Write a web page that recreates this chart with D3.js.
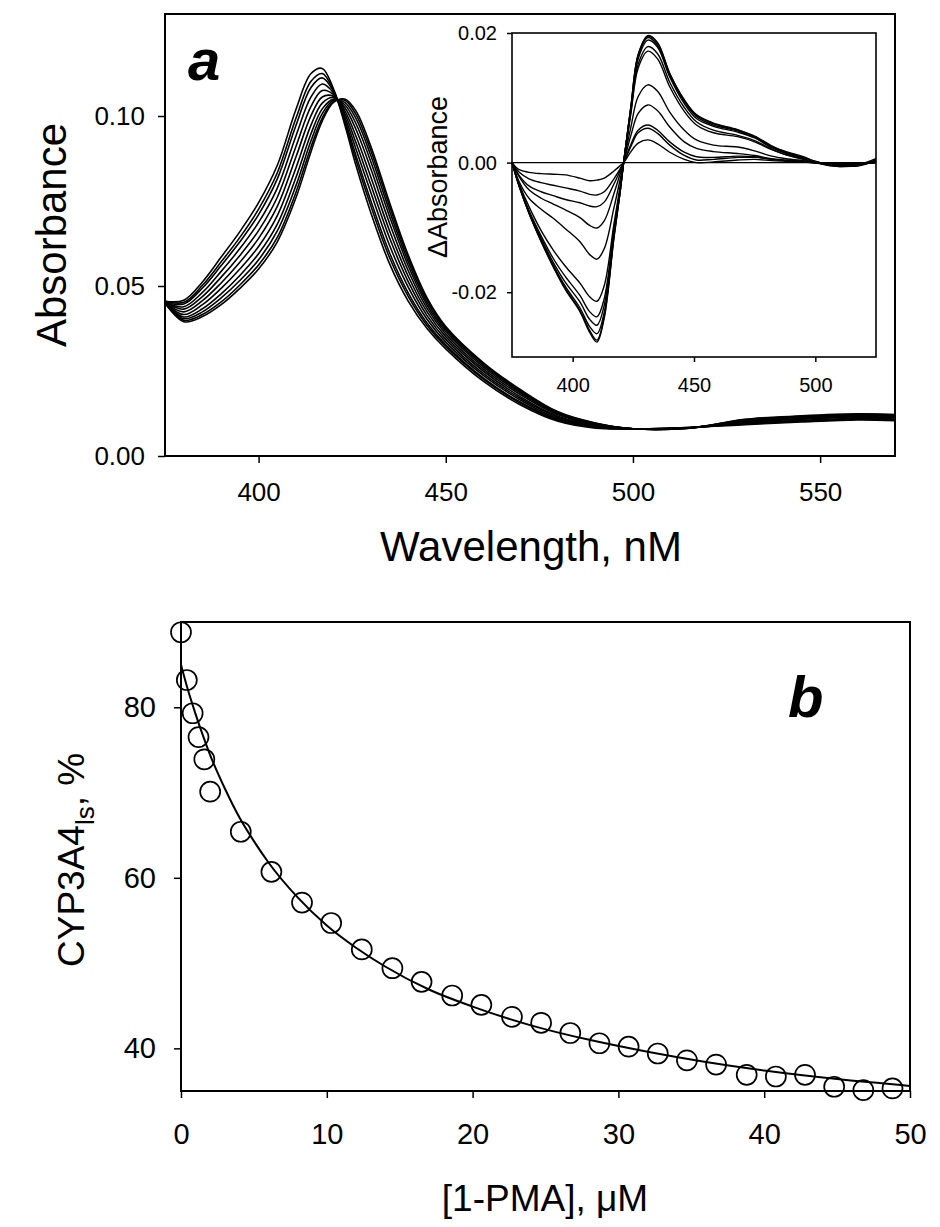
<!DOCTYPE html>
<html>
<head>
<meta charset="utf-8">
<script src="https://cdn.jsdelivr.net/npm/d3@7"></script>
<style>
body { margin: 0; background: #fff; }
svg text { font-family: "Liberation Sans", Arial, sans-serif; fill: #000; }
</style>
</head>
<body>
<div id="container"></div>
<script>
var WIDTH = 940,
	HEIGHT = 1227;

// panel a: absorbance spectra, one shared wavelength grid
var wavelengths = [375, 380, 385, 390, 395, 400, 405, 410, 414, 417, 420, 423, 426, 430, 435, 440, 445, 450, 460, 470, 480, 490, 500, 515, 530, 545, 560, 570];
var spec01 = [0.0455, 0.0458, 0.0512, 0.0585, 0.0660, 0.0745, 0.0855, 0.1020, 0.1125, 0.1140, 0.1080, 0.0975, 0.0855, 0.0715, 0.0565, 0.0455, 0.0375, 0.0315, 0.0220, 0.0150, 0.0102, 0.0082, 0.0080, 0.0084, 0.0092, 0.0100, 0.0106, 0.0104];
var spec02 = [0.0455, 0.0452, 0.0502, 0.0571, 0.0643, 0.0726, 0.0833, 0.0994, 0.1102, 0.1125, 0.1076, 0.0983, 0.0871, 0.0735, 0.0583, 0.0469, 0.0384, 0.0322, 0.0226, 0.0155, 0.0105, 0.0084, 0.0080, 0.0084, 0.0094, 0.0102, 0.0108, 0.0106];
var spec03 = [0.0454, 0.0447, 0.0494, 0.0560, 0.0630, 0.0710, 0.0815, 0.0973, 0.1084, 0.1112, 0.1073, 0.0989, 0.0884, 0.0750, 0.0597, 0.0479, 0.0391, 0.0327, 0.0230, 0.0158, 0.0107, 0.0085, 0.0080, 0.0084, 0.0095, 0.0103, 0.0109, 0.0107];
var spec04 = [0.0453, 0.0439, 0.0481, 0.0543, 0.0610, 0.0687, 0.0788, 0.0942, 0.1056, 0.1094, 0.1068, 0.0998, 0.0903, 0.0774, 0.0619, 0.0496, 0.0402, 0.0335, 0.0237, 0.0164, 0.0110, 0.0087, 0.0080, 0.0083, 0.0097, 0.0105, 0.0111, 0.0109];
var spec05 = [0.0453, 0.0432, 0.0469, 0.0526, 0.0590, 0.0663, 0.0761, 0.0911, 0.1028, 0.1075, 0.1063, 0.1007, 0.0922, 0.0797, 0.0641, 0.0512, 0.0413, 0.0343, 0.0243, 0.0169, 0.0114, 0.0088, 0.0080, 0.0083, 0.0099, 0.0108, 0.0114, 0.0112];
var spec06 = [0.0452, 0.0424, 0.0457, 0.0509, 0.0570, 0.0640, 0.0734, 0.0880, 0.1001, 0.1056, 0.1058, 0.1016, 0.0941, 0.0820, 0.0662, 0.0528, 0.0424, 0.0351, 0.0250, 0.0174, 0.0117, 0.0090, 0.0080, 0.0083, 0.0101, 0.0110, 0.0116, 0.0114];
var spec07 = [0.0452, 0.0416, 0.0445, 0.0493, 0.0550, 0.0616, 0.0707, 0.0848, 0.0973, 0.1038, 0.1054, 0.1025, 0.0961, 0.0844, 0.0684, 0.0544, 0.0434, 0.0359, 0.0256, 0.0180, 0.0121, 0.0092, 0.0080, 0.0083, 0.0103, 0.0112, 0.0118, 0.0116];
var spec08 = [0.0451, 0.0409, 0.0433, 0.0477, 0.0531, 0.0595, 0.0682, 0.0820, 0.0948, 0.1021, 0.1049, 0.1033, 0.0978, 0.0865, 0.0704, 0.0559, 0.0444, 0.0366, 0.0262, 0.0185, 0.0124, 0.0094, 0.0080, 0.0082, 0.0104, 0.0114, 0.0120, 0.0118];
var spec09 = [0.0451, 0.0404, 0.0424, 0.0465, 0.0516, 0.0577, 0.0662, 0.0796, 0.0927, 0.1007, 0.1046, 0.1040, 0.0993, 0.0883, 0.0720, 0.0571, 0.0452, 0.0372, 0.0267, 0.0189, 0.0126, 0.0095, 0.0080, 0.0082, 0.0106, 0.0115, 0.0121, 0.0119];
var spec10 = [0.0450, 0.0399, 0.0416, 0.0453, 0.0503, 0.0562, 0.0643, 0.0776, 0.0909, 0.0994, 0.1042, 0.1046, 0.1005, 0.0898, 0.0734, 0.0582, 0.0460, 0.0377, 0.0272, 0.0192, 0.0128, 0.0096, 0.0080, 0.0082, 0.0107, 0.0117, 0.0123, 0.0121];
var spec11 = [0.0450, 0.0395, 0.0410, 0.0445, 0.0493, 0.0550, 0.0630, 0.0760, 0.0895, 0.0985, 0.1040, 0.1050, 0.1015, 0.0910, 0.0745, 0.0590, 0.0465, 0.0381, 0.0275, 0.0195, 0.0130, 0.0097, 0.0080, 0.0082, 0.0108, 0.0118, 0.0124, 0.0122];
var absTicks = [0, 0.05, 0.10];
var wlTicks = [400, 450, 500, 550];

// inset: difference spectra
var insetWl = [375, 378, 382, 387, 392, 397, 403, 407, 410, 413, 417, 419.5, 421, 424, 427, 431, 435, 440, 446, 451, 458, 468, 475, 482, 488, 495, 502, 510, 518, 525];
var diff01 = [0, -0.0011, -0.0015, -0.0017, -0.0018, -0.0019, -0.0024, -0.0028, -0.0027, -0.0024, -0.0013, -0.0005, 0, 0.0017, 0.0030, 0.0035, 0.0029, 0.0016, 0.0005, 0.0000, 0.0001, 0.0004, 0.0005, 0.0003, 0.0002, 0.0001, -0.0001, -0.0002, -0.0001, 0.0000];
var diff02 = [0, -0.0015, -0.0025, -0.0031, -0.0035, -0.0039, -0.0044, -0.0049, -0.0050, -0.0045, -0.0025, -0.0010, 0, 0.0025, 0.0046, 0.0053, 0.0045, 0.0027, 0.0011, 0.0004, 0.0005, 0.0008, 0.0008, 0.0005, 0.0003, 0.0001, -0.0001, -0.0002, -0.0002, 0.0000];
var diff03 = [0, -0.0020, -0.0036, -0.0045, -0.0051, -0.0057, -0.0062, -0.0067, -0.0068, -0.0061, -0.0033, -0.0013, 0, 0.0028, 0.0050, 0.0058, 0.0050, 0.0032, 0.0016, 0.0009, 0.0008, 0.0010, 0.0009, 0.0005, 0.0003, 0.0001, -0.0001, -0.0003, -0.0002, 0.0000];
var diff04 = [0, -0.0022, -0.0042, -0.0055, -0.0064, -0.0073, -0.0085, -0.0097, -0.0101, -0.0090, -0.0048, -0.0018, 0, 0.0042, 0.0076, 0.0089, 0.0080, 0.0055, 0.0032, 0.0022, 0.0017, 0.0014, 0.0011, 0.0006, 0.0004, 0.0002, -0.0001, -0.0003, -0.0002, 0.0000];
var diff05 = [0, -0.0030, -0.0055, -0.0072, -0.0086, -0.0102, -0.0122, -0.0142, -0.0149, -0.0133, -0.0070, -0.0027, 0, 0.0055, 0.0102, 0.0120, 0.0110, 0.0078, 0.0050, 0.0035, 0.0027, 0.0024, 0.0018, 0.0010, 0.0006, 0.0003, 0.0000, -0.0003, -0.0002, 0.0001];
var diff06 = [0, -0.0033, -0.0068, -0.0105, -0.0135, -0.0160, -0.0186, -0.0207, -0.0214, -0.0190, -0.0095, -0.0038, 0, 0.0076, 0.0146, 0.0172, 0.0160, 0.0117, 0.0079, 0.0058, 0.0046, 0.0040, 0.0032, 0.0020, 0.0012, 0.0005, 0.0000, -0.0004, -0.0002, 0.0003];
var diff07 = [0, -0.0035, -0.0074, -0.0113, -0.0148, -0.0176, -0.0205, -0.0230, -0.0238, -0.0210, -0.0103, -0.0042, 0, 0.0079, 0.0152, 0.0179, 0.0168, 0.0124, 0.0085, 0.0063, 0.0050, 0.0042, 0.0034, 0.0021, 0.0012, 0.0006, -0.0001, -0.0004, -0.0003, 0.0002];
var diff08 = [0, -0.0036, -0.0076, -0.0117, -0.0154, -0.0185, -0.0215, -0.0242, -0.0251, -0.0220, -0.0108, -0.0044, 0, 0.0083, 0.0160, 0.0189, 0.0178, 0.0132, 0.0091, 0.0068, 0.0056, 0.0047, 0.0038, 0.0023, 0.0014, 0.0007, -0.0001, -0.0005, -0.0004, 0.0004];
var diff09 = [0, -0.0037, -0.0077, -0.0120, -0.0158, -0.0191, -0.0224, -0.0253, -0.0264, -0.0231, -0.0112, -0.0046, 0, 0.0085, 0.0164, 0.0193, 0.0181, 0.0135, 0.0094, 0.0071, 0.0058, 0.0049, 0.0039, 0.0024, 0.0015, 0.0008, -0.0002, -0.0006, -0.0003, 0.0006];
var diff10 = [0, -0.0037, -0.0078, -0.0121, -0.0160, -0.0194, -0.0228, -0.0259, -0.0274, -0.0237, -0.0115, -0.0047, 0, 0.0086, 0.0166, 0.0195, 0.0184, 0.0137, 0.0096, 0.0073, 0.0060, 0.0050, 0.0041, 0.0026, 0.0016, 0.0008, 0.0000, -0.0005, -0.0005, 0.0003];
var diff11 = [0, -0.0037, -0.0078, -0.0122, -0.0161, -0.0196, -0.0230, -0.0262, -0.0277, -0.0240, -0.0117, -0.0048, 0, 0.0087, 0.0167, 0.0196, 0.0185, 0.0138, 0.0097, 0.0074, 0.0061, 0.0051, 0.0040, 0.0025, 0.0017, 0.0009, -0.0001, -0.0006, -0.0004, 0.0005];
var dAbsTicks = [-0.02, 0, 0.02];
var insetWlTicks = [400, 450, 500];

// panel b: titration points and fitted curve
var pmaConc = [0, 0.4, 0.8, 1.2, 1.6, 2.0, 4.1, 6.2, 8.3, 10.3, 12.4, 14.5, 16.5, 18.6, 20.6, 22.7, 24.7, 26.7, 28.7, 30.7, 32.7, 34.7, 36.7, 38.8, 40.8, 42.8, 44.8, 46.8, 48.8];
var lowSpin = [88.8, 83.2, 79.3, 76.5, 73.9, 70.1, 65.4, 60.7, 57.1, 54.7, 51.6, 49.4, 47.8, 46.2, 45.1, 43.7, 43.0, 41.8, 40.6, 40.2, 39.4, 38.6, 38.1, 36.9, 36.7, 36.9, 35.5, 35.1, 35.3];
var fitConc = [0, 0.5, 1, 1.5, 2, 3, 4, 5, 6, 8, 10, 12, 14, 17, 20, 24, 28, 32, 36, 40, 45, 50];
var fitLowSpin = [85.0, 81.9, 79.2, 76.7, 74.4, 70.5, 67.1, 64.3, 61.8, 57.7, 54.4, 51.8, 49.6, 46.9, 44.9, 42.7, 41.0, 39.6, 38.4, 37.4, 36.4, 35.6];
var pctTicks = [40, 60, 80];
var concTicks = [0, 10, 20, 30, 40, 50];

var translate = function (x, y) {
	return "translate(" + x + "," + y + ")";
};

var fmt2 = function (d) { return d.toFixed(2); };

function styleAxis(g, size) {
	g.attr('font-size', size)
		.attr('font-family', '"Liberation Sans", Arial, sans-serif');
	g.select('.domain').remove();
	g.selectAll('line').attr('stroke-width', 1.5);
}

function drawFrame(svg, x0, x1, y0, y1, w) {
	svg.append('rect')
		.attr('x', x0).attr('y', y1)
		.attr('width', x1 - x0).attr('height', y0 - y1)
		.attr('fill', 'none')
		.attr('stroke', 'black')
		.attr('stroke-width', w);
}

function drawSpectra(svg) {
	var x = d3.scaleLinear().domain([375, 570]).range([165, 895]);
	var y = d3.scaleLinear().domain([0, 0.13]).range([456, 14]);

	svg.append('g')
		.attr('transform', translate(165, 0))
		.call(d3.axisLeft(y).tickValues(absTicks).tickFormat(fmt2).tickSize(7).tickPadding(13))
		.call(styleAxis, 26);
	svg.append('g')
		.attr('transform', translate(0, 456))
		.call(d3.axisBottom(x).tickValues(wlTicks).tickFormat(d3.format('d')).tickSize(7).tickPadding(20))
		.call(styleAxis, 26);

	var line = d3.line()
		.x(function (d, i) { return x(wavelengths[i]); })
		.y(function (d) { return y(d); })
		.curve(d3.curveCatmullRom.alpha(0.5));

	var spectra = [spec01, spec02, spec03, spec04, spec05, spec06, spec07, spec08, spec09, spec10, spec11];
	svg.append('g').selectAll('path').data(spectra).enter()
		.append('path')
		.attr('d', line)
		.attr('fill', 'none')
		.attr('stroke', 'black')
		.attr('stroke-width', 1.6);

	drawFrame(svg, 165, 895, 456, 14, 2);

	svg.append('text')
		.attr('x', 188).attr('y', 80)
		.attr('font-size', 58).attr('font-weight', 'bold').attr('font-style', 'italic')
		.text('a');
	svg.append('text')
		.attr('transform', translate(66, 235) + ' rotate(-90)')
		.attr('text-anchor', 'middle')
		.attr('font-size', 42)
		.text('Absorbance');
	svg.append('text')
		.attr('x', 531).attr('y', 561)
		.attr('text-anchor', 'middle')
		.attr('font-size', 42)
		.text('Wavelength, nM');
}

function drawInset(svg) {
	var x = d3.scaleLinear().domain([375, 525]).range([512, 876]);
	var y = d3.scaleLinear().domain([-0.03, 0.02]).range([357, 33]);

	svg.append('rect')
		.attr('x', 512).attr('y', 33)
		.attr('width', 364).attr('height', 324)
		.attr('fill', 'white');

	svg.append('g')
		.attr('transform', translate(512, 0))
		.call(d3.axisLeft(y).tickValues(dAbsTicks).tickFormat(fmt2).tickSize(5).tickPadding(10))
		.call(styleAxis, 20);
	svg.append('g')
		.attr('transform', translate(0, 357))
		.call(d3.axisBottom(x).tickValues(insetWlTicks).tickFormat(d3.format('d')).tickSize(5).tickPadding(16))
		.call(styleAxis, 20);

	svg.append('line')
		.attr('x1', x(375)).attr('x2', x(525))
		.attr('y1', y(0)).attr('y2', y(0))
		.attr('stroke', 'black')
		.attr('stroke-width', 1.2);

	var line = d3.line()
		.x(function (d, i) { return x(insetWl[i]); })
		.y(function (d) { return y(d); })
		.curve(d3.curveCatmullRom.alpha(0.5));

	var diffs = [diff01, diff02, diff03, diff04, diff05, diff06, diff07, diff08, diff09, diff10, diff11];
	svg.append('g').selectAll('path').data(diffs).enter()
		.append('path')
		.attr('d', line)
		.attr('fill', 'none')
		.attr('stroke', 'black')
		.attr('stroke-width', 1.4);

	drawFrame(svg, 512, 876, 357, 33, 1.6);

	svg.append('text')
		.attr('transform', translate(447, 177) + ' rotate(-90)')
		.attr('text-anchor', 'middle')
		.attr('font-size', 27)
		.text('\u0394Absorbance');
}

function drawTitration(svg) {
	var x = d3.scaleLinear().domain([0, 50]).range([181, 910]);
	var y = d3.scaleLinear().domain([35, 90]).range([1091, 622]);

	svg.append('g')
		.attr('transform', translate(181, 0))
		.call(d3.axisLeft(y).tickValues(pctTicks).tickFormat(d3.format('d')).tickSize(7).tickPadding(18))
		.call(styleAxis, 29);
	svg.append('g')
		.attr('transform', translate(0, 1091))
		.call(d3.axisBottom(x).tickValues(concTicks).tickFormat(d3.format('d')).tickSize(7).tickPadding(25))
		.call(styleAxis, 29);

	var fit = d3.line()
		.x(function (d, i) { return x(fitConc[i]); })
		.y(function (d) { return y(d); })
		.curve(d3.curveMonotoneX);
	svg.append('path')
		.attr('d', fit(fitLowSpin))
		.attr('fill', 'none')
		.attr('stroke', 'black')
		.attr('stroke-width', 2);

	drawFrame(svg, 181, 910, 1091, 622, 2);

	svg.append('g').selectAll('circle').data(lowSpin).enter()
		.append('circle')
		.attr('cx', function (d, i) { return x(pmaConc[i]); })
		.attr('cy', function (d) { return y(d); })
		.attr('r', 10)
		.attr('fill', 'none')
		.attr('stroke', 'black')
		.attr('stroke-width', 1.7);

	svg.append('text')
		.attr('x', 788).attr('y', 717)
		.attr('font-size', 58).attr('font-weight', 'bold').attr('font-style', 'italic')
		.text('b');

	var yl = svg.append('text')
		.attr('transform', translate(84, 967) + ' rotate(-90)')
		.attr('font-size', 37);
	yl.append('tspan').text('CYP3A4');
	yl.append('tspan').attr('font-size', 26).attr('dy', 10).text('ls');
	yl.append('tspan').attr('dy', -10).text(', %');

	svg.append('text')
		.attr('x', 545).attr('y', 1211)
		.attr('text-anchor', 'middle')
		.attr('font-size', 37)
		.text('[1-PMA], \u03bcM');
}

function visualize() {
	var svg = d3.select('#container')
		.append('svg')
		.attr('width', WIDTH)
		.attr('height', HEIGHT);
	svg.append('rect').attr('width', WIDTH).attr('height', HEIGHT).attr('fill', 'white');
	drawSpectra(svg);
	drawInset(svg);
	drawTitration(svg);
}

window.onload = visualize;
</script>
</body>
</html>
